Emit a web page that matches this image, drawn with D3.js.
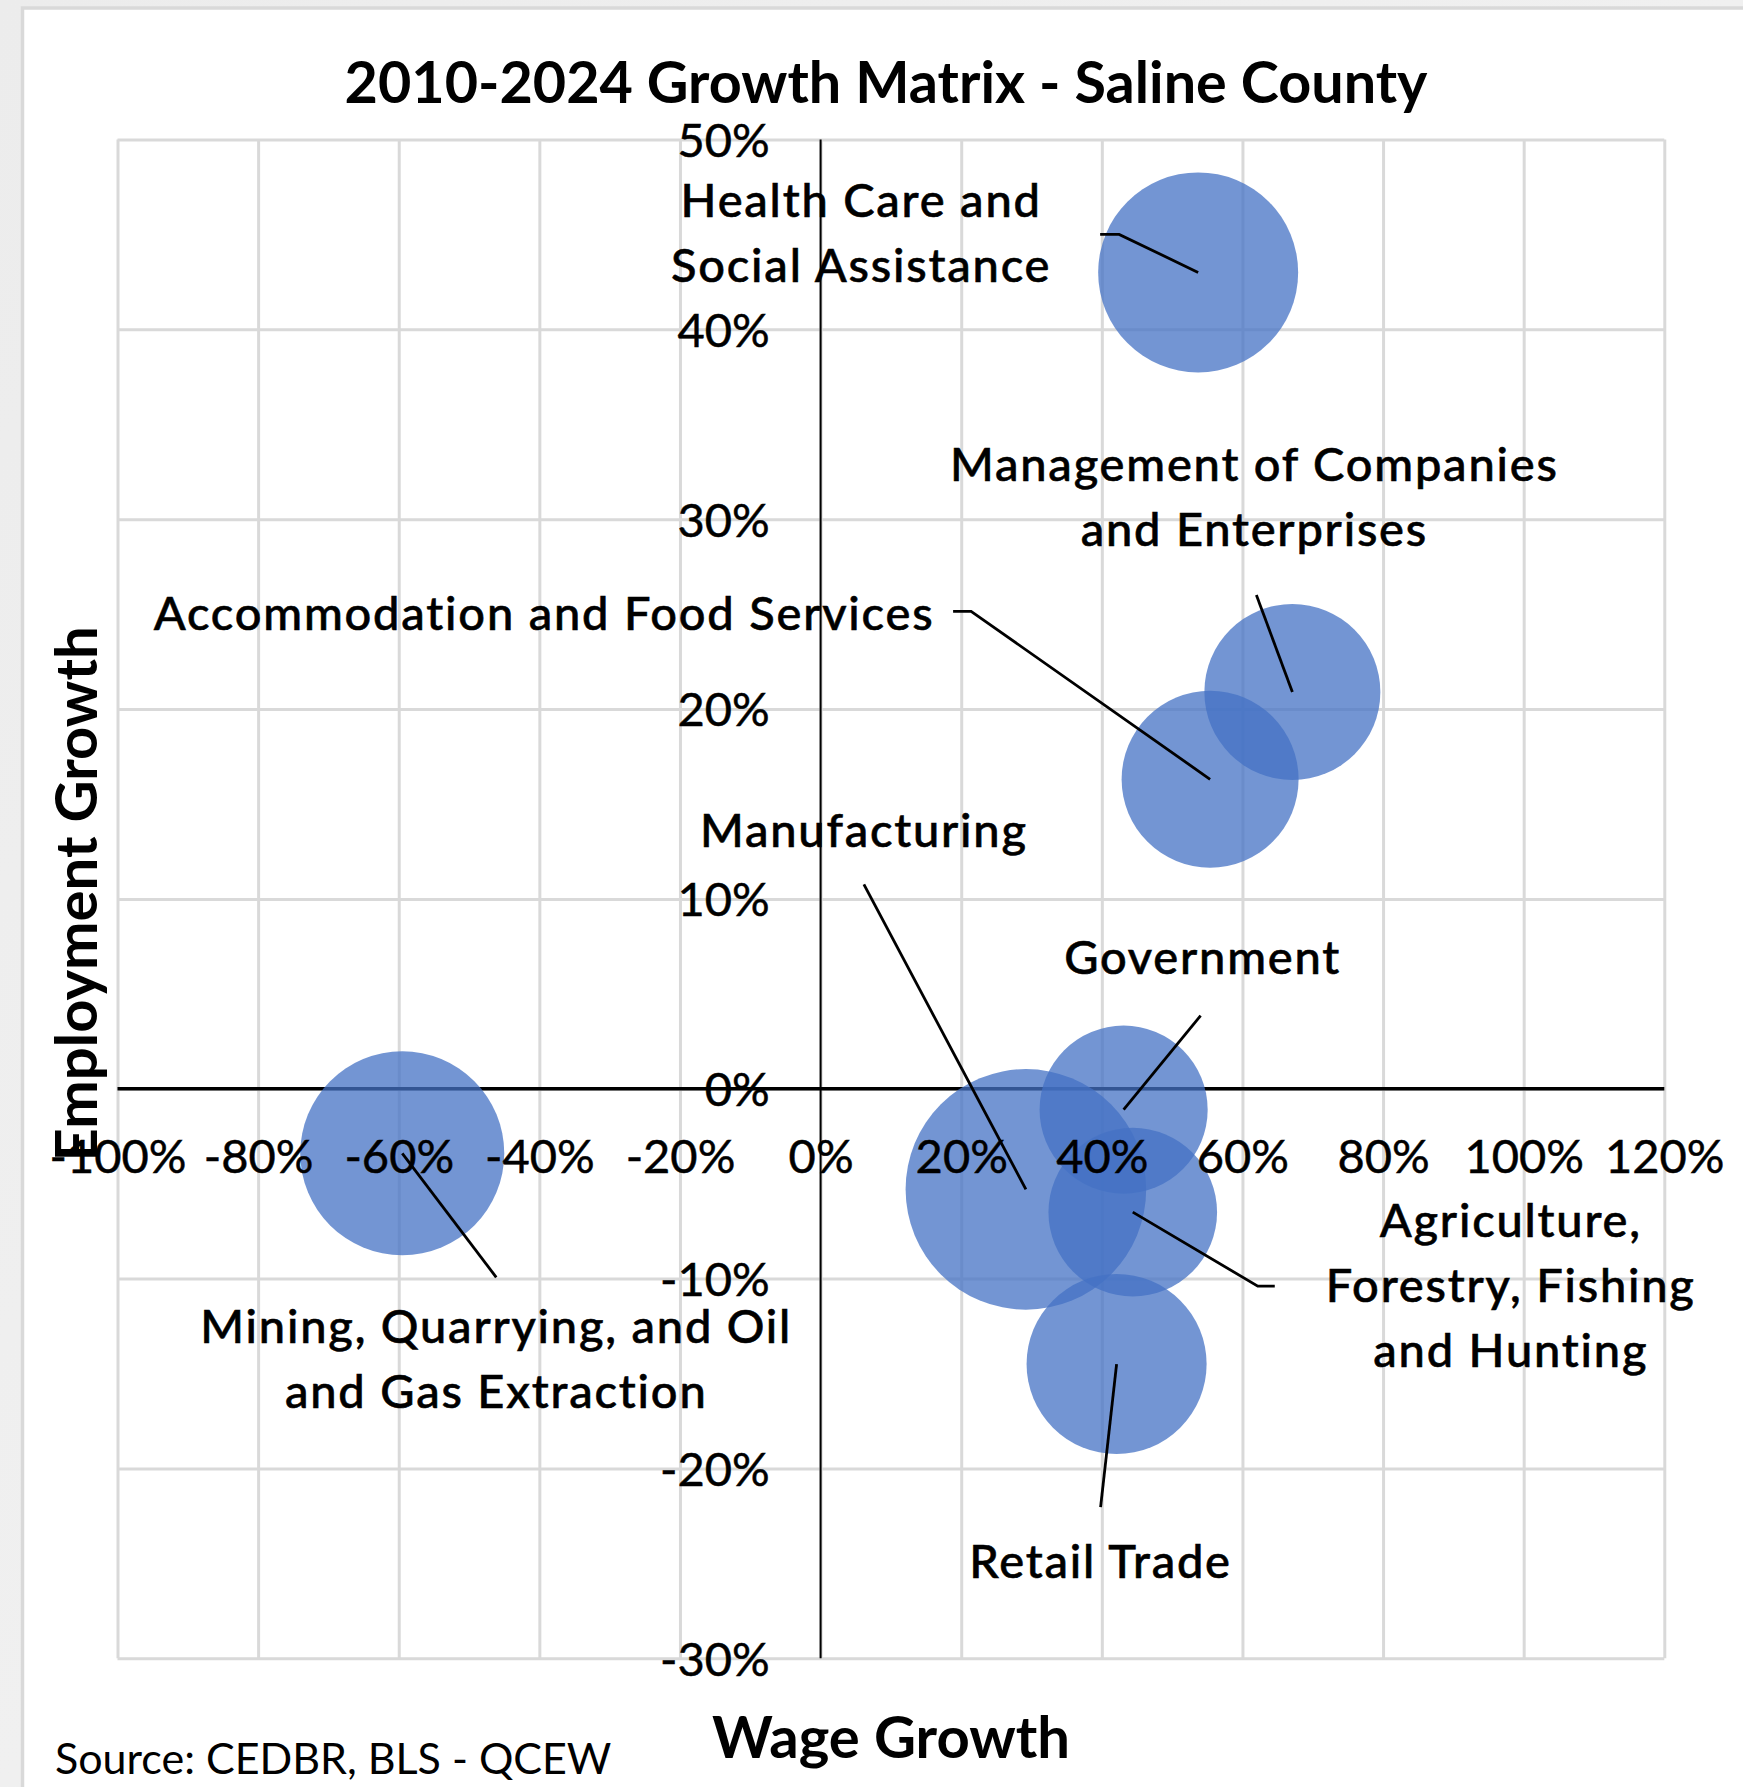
<!DOCTYPE html>
<html>
<head>
<meta charset="utf-8">
<script src="https://cdn.jsdelivr.net/npm/d3@7"></script>
<style>
  html, body { margin: 0; padding: 0; background: #efefef; }
  svg { display: block; }
  text { font-family: Lato, "Open Sans", sans-serif; fill: #000; }
</style>
</head>
<body>
<svg id="chart" width="1743" height="1787"></svg>
<script>
// ---------------- data ----------------
const categories = [
  "Health Care and Social Assistance",
  "Management of Companies and Enterprises",
  "Accommodation and Food Services",
  "Manufacturing",
  "Government",
  "Agriculture, Forestry, Fishing and Hunting",
  "Mining, Quarrying, and Oil and Gas Extraction",
  "Retail Trade"
];
const wageGrowth       = [53.7, 67.1, 55.4, 29.2, 43.1, 44.4, -59.5, 42.1];   // %
const employmentGrowth = [43.0, 20.9, 16.3, -5.3, -1.1, -6.5, -3.4, -14.5];   // %
const bubbleSize       = [69.1, 53.5, 54.1, 100, 48.8, 49.1, 71.9, 56.0];     // relative size
const xTickValues = [-100, -80, -60, -40, -20, 0, 20, 40, 60, 80, 100, 120];
const yTickValues = [-30, -20, -10, 0, 10, 20, 30, 40, 50];
const titleText = "2010-2024 Growth Matrix - Saline County";
const xAxisTitle = "Wage Growth";
const yAxisTitle = "Employment Growth";
const sourceText = "Source: CEDBR, BLS - QCEW";

// ---------------- layout ----------------
const labelLines = [
  ["Health Care and", "Social Assistance"],
  ["Management of Companies", "and Enterprises"],
  ["Accommodation and Food Services"],
  ["Manufacturing"],
  ["Government"],
  ["Agriculture,", "Forestry, Fishing", "and Hunting"],
  ["Mining, Quarrying, and Oil", "and Gas Extraction"],
  ["Retail Trade"]
];
// label anchor offset (px from bubble centre), leader start offset, optional elbow
const labelLayout = [
  {dx: -337, dy: -55,  lx: -98,  ly: -38, ex: -79,  ey: -38},
  {dx: -38,  dy: -211, lx: -36,  ly: -97},
  {dx: -666, dy: -149, lx: -257, ly: -168, ex: -239, ey: -168},
  {dx: -162, dy: -342, lx: -162, ly: -305},
  {dx: 79,   dy: -136, lx: 77,   ly: -94},
  {dx: 378,  dy: 25,   lx: 142,  ly: 74,  ex: 125,  ey: 74},
  {dx: 94,   dy: 190,  lx: 94,   ly: 124},
  {dx: -16,  dy: 214,  lx: -16,  ly: 143}
];
const lineGap = 65;

const W = 1743, H = 1787;
const plot = {left: 117.5, right: 1664.3, top: 139.5, bottom: 1658.3};

const svg = d3.select("#chart");

// background + chart area
const defs = svg.append("defs");
const grad = defs.append("linearGradient").attr("id", "bg").attr("x1", 0).attr("y1", 0).attr("x2", 1).attr("y2", 1);
grad.append("stop").attr("offset", "0%").attr("stop-color", "#ececec");
grad.append("stop").attr("offset", "100%").attr("stop-color", "#f4f4f4");
svg.append("rect").attr("width", W).attr("height", H).attr("fill", "url(#bg)");
svg.append("rect").attr("x", 22.5).attr("y", 8).attr("width", W).attr("height", H)
  .attr("fill", "#fff").attr("stroke", "#d9d9d9").attr("stroke-width", 3.5);

// scales
const x = d3.scaleLinear().domain([d3.min(xTickValues), d3.max(xTickValues)]).range([plot.left, plot.right]);
const y = d3.scaleLinear().domain([d3.min(yTickValues), d3.max(yTickValues)]).range([plot.bottom, plot.top]);
const r = d3.scaleSqrt().domain([0, d3.max(bubbleSize)]).range([0, 120.3]);

// gridlines
const gridX = svg.append("g").attr("transform", `translate(0,${plot.bottom})`)
  .call(d3.axisBottom(x).tickValues(xTickValues).tickSize(-(plot.bottom - plot.top)).tickFormat(""));
const gridY = svg.append("g").attr("transform", `translate(${plot.left},0)`)
  .call(d3.axisLeft(y).tickValues(yTickValues).tickSize(-(plot.right - plot.left)).tickFormat(""));
[gridX, gridY].forEach(g => {
  g.select(".domain").remove();
  g.selectAll(".tick line").attr("stroke", "#d9d9d9").attr("stroke-width", 3);
});

// axis lines
svg.append("line").attr("x1", plot.left).attr("x2", plot.right).attr("y1", y(0)).attr("y2", y(0))
  .attr("stroke", "#000").attr("stroke-width", 3.5);
svg.append("line").attr("x1", x(0)).attr("x2", x(0)).attr("y1", plot.top).attr("y2", plot.bottom)
  .attr("stroke", "#000").attr("stroke-width", 2);

// bubbles
const data = categories.map((c, i) => ({
  name: c, wx: wageGrowth[i], ey: employmentGrowth[i], s: bubbleSize[i],
  lines: labelLines[i], lay: labelLayout[i]
}));
svg.append("g").selectAll("circle").data(data).join("circle")
  .attr("cx", d => x(d.wx)).attr("cy", d => y(d.ey)).attr("r", d => r(d.s))
  .attr("fill", "#4472c4").attr("fill-opacity", 0.75);

// leader lines
svg.append("g").selectAll("path").data(data).join("path")
  .attr("d", d => {
    const cx = x(d.wx), cy = y(d.ey), L = d.lay;
    let p = `M${cx + L.lx},${cy + L.ly}`;
    if (L.ex !== undefined) p += `L${cx + L.ex},${cy + L.ey}`;
    return p + `L${cx},${cy}`;
  })
  .attr("fill", "none").attr("stroke", "#000").attr("stroke-width", 2.8);

// data labels
const lbl = svg.append("g").selectAll("text").data(data).join("text")
  .attr("text-anchor", "middle").attr("font-size", 47).attr("font-weight", 500)
  .attr("letter-spacing", 1.8)
  .attr("stroke", "#000").attr("stroke-width", 0.6)
  .attr("x", d => x(d.wx) + d.lay.dx).attr("y", d => y(d.ey) + d.lay.dy);
lbl.selectAll("tspan").data(d => d.lines.map((t, k) => ({t, k, d}))).join("tspan")
  .attr("x", o => x(o.d.wx) + o.d.lay.dx).attr("dy", o => o.k === 0 ? 0 : lineGap).text(o => o.t);

// tick labels
const yAx = svg.append("g").attr("transform", `translate(${x(0)},0)`)
  .call(d3.axisLeft(y).tickValues(yTickValues).tickSize(0).tickPadding(51).tickFormat(d => d + "%"));
yAx.select(".domain").remove();
yAx.selectAll("text").attr("font-family", "Lato").attr("font-size", 47).attr("fill", "#000")
  .attr("stroke", "#000").attr("stroke-width", 0.5).attr("dy", "0.36em");

const xAx = svg.append("g").attr("transform", `translate(0,${y(0)})`)
  .call(d3.axisBottom(x).tickValues(xTickValues).tickSize(0).tickFormat(d => d + "%"));
xAx.select(".domain").remove();
xAx.selectAll("text").attr("font-family", "Lato").attr("font-size", 47).attr("fill", "#000")
  .attr("stroke", "#000").attr("stroke-width", 0.5).attr("y", 84).attr("dy", 0);

// titles
svg.append("text").attr("x", 886).attr("y", 103).attr("text-anchor", "middle")
  .attr("font-size", 57.5).attr("font-weight", 700).text(titleText);
svg.append("text").attr("x", 891).attr("y", 1758).attr("text-anchor", "middle")
  .attr("font-size", 58).attr("font-weight", 700).text(xAxisTitle);
svg.append("text").attr("transform", `translate(97,${(plot.top + plot.bottom) / 2 - 5}) rotate(-90)`)
  .attr("text-anchor", "middle").attr("font-size", 58).attr("font-weight", 700).text(yAxisTitle);
svg.append("text").attr("x", 55).attr("y", 1774).attr("font-size", 43).text(sourceText);
</script>
</body>
</html>
